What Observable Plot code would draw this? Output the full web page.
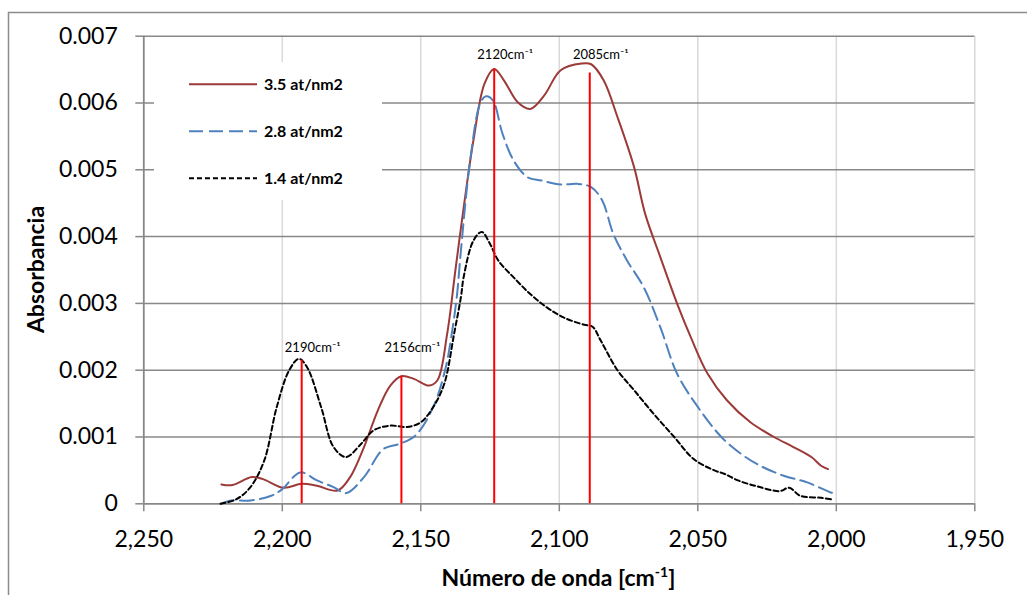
<!DOCTYPE html>
<html>
<head>
<meta charset="utf-8">
<script src="https://cdn.jsdelivr.net/npm/d3@7"></script>
<script src="https://cdn.jsdelivr.net/npm/@observablehq/plot@0.6"></script>
<style>
  html, body { margin: 0; padding: 0; background: #fff; }
  svg { display: block; }
</style>
</head>
<body>
<div id="chart"></div>
<script>
// ---------- data ----------
const seriesNames = ["3.5 at/nm2", "2.8 at/nm2", "1.4 at/nm2"];

const wave35 = [2222, 2218, 2211, 2207, 2199.5, 2193, 2187.5, 2180, 2175.5, 2170.5, 2165.5, 2161, 2157, 2152.5, 2147, 2144, 2140.5, 2137.5, 2134.5, 2131, 2127, 2123.5, 2120, 2115, 2110.5, 2105.5, 2099.5, 2092, 2088.5, 2084, 2079, 2073, 2069, 2063.5, 2057.5, 2052.5, 2046.5, 2039.5, 2031, 2022.5, 2015.5, 2009, 2005.5, 2003];
const abs35 = [0.00029, 0.00028, 0.0004, 0.00037, 0.00024, 0.0003, 0.00027, 0.0002, 0.0004, 0.00085, 0.0014, 0.00177, 0.00191, 0.00187, 0.00177, 0.00185, 0.00254, 0.0035, 0.00444, 0.00544, 0.00629, 0.00651, 0.00634, 0.00601, 0.00591, 0.00611, 0.00649, 0.00659, 0.00658, 0.00634, 0.00579, 0.00504, 0.00434, 0.00369, 0.003, 0.00249, 0.00195, 0.00155, 0.00122, 0.001, 0.00085, 0.0007, 0.00057, 0.00052];

const wave28 = [2222.3, 2218.5, 2211.5, 2204, 2200, 2193.5, 2187.5, 2181.5, 2177, 2170.5, 2163.5, 2157.5, 2152, 2145.5, 2141, 2139, 2137, 2135.5, 2132, 2128.5, 2126.5, 2124, 2120.5, 2116.5, 2111.5, 2106.5, 2099.5, 2093.5, 2088.5, 2084.5, 2080.5, 2075.5, 2069.5, 2063.5, 2057.5, 2050, 2041.5, 2034.5, 2027.5, 2019, 2010.5, 2002, 2000];
const abs28 = [0, 0.00005, 0.00005, 0.00012, 0.00022, 0.00047, 0.00035, 0.00025, 0.00016, 0.0004, 0.00082, 0.0009, 0.00102, 0.00145, 0.00204, 0.0025, 0.0031, 0.0038, 0.0052, 0.006, 0.0061, 0.00604, 0.00554, 0.00514, 0.00489, 0.00484, 0.00478, 0.00479, 0.00474, 0.00454, 0.00404, 0.00364, 0.00324, 0.00264, 0.00195, 0.00145, 0.001, 0.00075, 0.00057, 0.00042, 0.00032, 0.00017, 0.00015];

const wave14 = [2222.3, 2216.5, 2211.5, 2206.5, 2202, 2197.5, 2194, 2191, 2186, 2181.5, 2177, 2171.5, 2167, 2161, 2155, 2150, 2145.5, 2141.5, 2138, 2135.5, 2134.5, 2131, 2128, 2125, 2122, 2116.5, 2110.5, 2104.5, 2098.5, 2091, 2088, 2085, 2079, 2073, 2066, 2058.5, 2051.5, 2044, 2040.5, 2035.5, 2028.5, 2020.5, 2017, 2013, 2005.5, 2001];
const abs14 = [0, 0.00007, 0.00025, 0.00065, 0.00145, 0.002, 0.00217, 0.00204, 0.00145, 0.00085, 0.0007, 0.0009, 0.0011, 0.00117, 0.00115, 0.00122, 0.00145, 0.0018, 0.00254, 0.0031, 0.0034, 0.00394, 0.00407, 0.00389, 0.00364, 0.00339, 0.00314, 0.00294, 0.00279, 0.00268, 0.00265, 0.00244, 0.002, 0.0017, 0.00135, 0.001, 0.00067, 0.0005, 0.00045, 0.00035, 0.00026, 0.00019, 0.00024, 0.00012, 0.00009, 0.00006];

const peakPositions = [2193, 2157, 2123.5, 2089];
const peakHeights = [0.00215, 0.00191, 0.00651, 0.00645];
const peakLabels = ["2190", "2156", "2120", "2085"];
const peakLabelLevels = [0.00234, 0.00234, 0.00672, 0.00672];

const xTicks = [2250, 2200, 2150, 2100, 2050, 2000, 1950];
const yTicks = [0, 0.001, 0.002, 0.003, 0.004, 0.005, 0.006, 0.007];

const xTitle = "Número de onda [cm";
const yTitle = "Absorbancia";

// ---------- build tables ----------
const rows = (xs, ys, name) => xs.map((x, i) => ({x, y: ys[i], series: name}));
const d35 = rows(wave35, abs35, seriesNames[0]);
const d28 = rows(wave28, abs28, seriesNames[1]);
const d14 = rows(wave14, abs14, seriesNames[2]);
const peaks = peakPositions.map((p, i) => ({pos: p, top: peakHeights[i], label: peakLabels[i] + "cm\u207B\u00B9", ly: peakLabelLevels[i]}));

const colors = ["#9b3a38", "#4f81bd", "#000000"];
const dashes = [null, "14,6", "5,3"];

const grid = "#888888";
const yFmt = d => d === 0 ? "0" : d3.format(".3f")(d);
const FONT = "Lato, 'Open Sans', sans-serif";

const plot = Plot.plot({
  width: 1027,
  height: 595,
  marginLeft: 143.3,
  marginRight: 52.7,
  marginTop: 35.7,
  marginBottom: 91.7,
  style: {fontFamily: FONT, background: "transparent", color: "#000"},
  x: {domain: [2250, 1950]},
  y: {domain: [0, 0.007]},
  marks: [
    Plot.ruleX(xTicks.slice(1), {stroke: "#d9d9d9", strokeWidth: 1.5}),
    Plot.ruleY(yTicks.slice(1), {stroke: grid, strokeWidth: 1.5}),
    Plot.axisX({ticks: xTicks, tickFormat: d3.format(","), tickSize: 8, tickPadding: 19, fontSize: 23, stroke: grid, strokeWidth: 1.5, strokeOpacity: 1, fill: "#000", label: null}),
    Plot.axisY({ticks: yTicks, tickFormat: yFmt, tickSize: 8, tickPadding: 18, fontSize: 23, stroke: grid, strokeWidth: 1.5, strokeOpacity: 1, fill: "#000", label: null}),
    Plot.ruleX([2250], {stroke: grid, strokeWidth: 1.8}),
    Plot.ruleY([0], {stroke: grid, strokeWidth: 1.8}),
    Plot.line(d35, {x: "x", y: "y", stroke: colors[0], strokeWidth: 2, curve: "catmull-rom"}),
    Plot.line(d28, {x: "x", y: "y", stroke: colors[1], strokeWidth: 2, strokeDasharray: dashes[1], curve: "catmull-rom"}),
    Plot.line(d14, {x: "x", y: "y", stroke: colors[2], strokeWidth: 2, strokeDasharray: dashes[2], curve: "catmull-rom"}),
    Plot.ruleX(peaks, {x: "pos", y1: 0, y2: "top", stroke: "#ff0000", strokeWidth: 2}),
    Plot.text(peaks, {x: "pos", y: "ly", text: "label", dx: 11, fontSize: 13, fill: "#000", textAnchor: "middle"})
  ]
});

const svg = d3.select(plot);
svg.style("background", "#fff");

// outer chart frame
svg.insert("rect", ":first-child")
  .attr("x", 8.5).attr("y", 12.5).attr("width", 1040).attr("height", 620)
  .attr("fill", "#fff").attr("stroke", "#8c8c8c").attr("stroke-width", 1.5);

// legend
const lg = svg.append("g").attr("font-family", FONT).attr("text-anchor", "start");
lg.append("rect").attr("x", 154).attr("y", 62).attr("width", 228).attr("height", 138).attr("fill", "#fff");
seriesNames.forEach((name, i) => {
  const y = 84.3 + i * 47;
  lg.append("line").attr("x1", 189).attr("x2", 257).attr("y1", y).attr("y2", y)
    .attr("stroke", colors[i]).attr("stroke-width", 2)
    .attr("stroke-dasharray", dashes[i]);
  lg.append("text").attr("x", 264).attr("y", y).attr("dy", "0.36em")
    .attr("text-anchor", "start")
    .attr("font-size", 16).attr("font-weight", "bold").attr("fill", "#000").text(name);
});

// axis titles
const xt = svg.append("text").attr("x", 558.5).attr("y", 586)
  .attr("text-anchor", "middle").attr("font-family", FONT)
  .attr("font-size", 23).attr("font-weight", "bold").attr("fill", "#000");
xt.append("tspan").text(xTitle);
xt.append("tspan").attr("font-size", 14).attr("dy", -9).text("-1");
xt.append("tspan").attr("dy", 9).text("]");

svg.append("text").attr("transform", "translate(44,269.5) rotate(-90)")
  .attr("text-anchor", "middle").attr("font-family", FONT)
  .attr("font-size", 23).attr("font-weight", "bold").attr("fill", "#000").text(yTitle);

document.getElementById("chart").appendChild(plot);
</script>
</body>
</html>
